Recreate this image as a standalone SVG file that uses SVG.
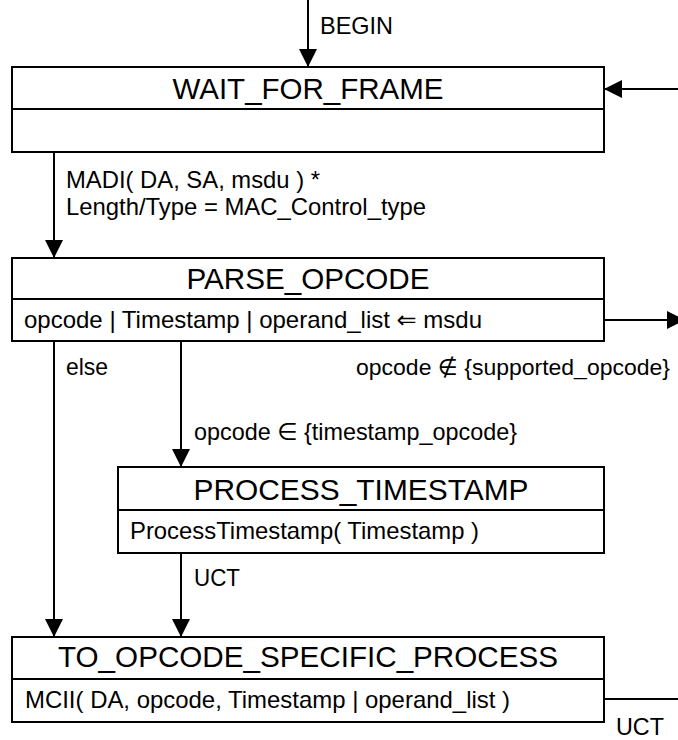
<svg xmlns="http://www.w3.org/2000/svg" width="678" height="740" viewBox="0 0 678 740">
<style>
.box{fill:#fff;stroke:#000;stroke-width:2}
.div{stroke:#000;stroke-width:2}
.ttl{font-family:"Liberation Sans",Arial,sans-serif;font-size:30px;fill:#000;text-anchor:middle}
.txt{font-family:"Liberation Sans","DejaVu Sans",Arial,sans-serif;font-size:24px;fill:#000}
.cn{fill:none;stroke:#000;stroke-width:2}
</style>
<defs>
<marker id="ah" markerUnits="userSpaceOnUse" markerWidth="18" markerHeight="18" refX="18" refY="9" orient="auto">
<path d="M0,0 L18,9 L0,18 z" fill="#000"/>
</marker>
</defs>
<rect width="678" height="740" fill="#fff"/>
<g id="connectors">
<path class="cn" d="M308 0 L308 67" marker-end="url(#ah)"/>
<path class="cn" d="M690 89 L604 89" marker-end="url(#ah)"/>
<path class="cn" d="M54 152 L54 258" marker-end="url(#ah)"/>
<path class="cn" d="M604 320 L685 320" marker-end="url(#ah)"/>
<path class="cn" d="M54 341 L54 637" marker-end="url(#ah)"/>
<path class="cn" d="M181 341 L181 467" marker-end="url(#ah)"/>
<path class="cn" d="M181 553 L181 637" marker-end="url(#ah)"/>
<path class="cn" d="M604 699 L678 699"/>
<text class="txt" x="320" y="34" textLength="73" lengthAdjust="spacingAndGlyphs">BEGIN</text>
<text class="txt" x="66" y="188" textLength="254" lengthAdjust="spacingAndGlyphs">MADI( DA, SA, msdu ) *</text>
<text class="txt" x="66" y="215" textLength="360" lengthAdjust="spacingAndGlyphs">Length/Type = MAC_Control_type</text>
<text class="txt" x="66" y="375" textLength="42" lengthAdjust="spacingAndGlyphs">else</text>
<text class="txt" x="356" y="375" style="font-size:22.5px" textLength="314" lengthAdjust="spacingAndGlyphs">opcode ∉ {supported_opcode}</text>
<text class="txt" x="194" y="440" textLength="323" lengthAdjust="spacingAndGlyphs">opcode ∈ {timestamp_opcode}</text>
<text class="txt" x="194" y="586" textLength="46" lengthAdjust="spacingAndGlyphs">UCT</text>
<text class="txt" x="616" y="735" textLength="48" lengthAdjust="spacingAndGlyphs">UCT</text>
</g>
<g id="WAIT_FOR_FRAME">
<rect class="box" x="12" y="67" width="592" height="85"/>
<line class="div" x1="12" y1="109" x2="604" y2="109"/>
<text class="ttl" x="308" y="99" textLength="271" lengthAdjust="spacingAndGlyphs">WAIT_FOR_FRAME</text>
</g>
<g id="PARSE_OPCODE">
<rect class="box" x="12" y="258" width="592" height="83"/>
<line class="div" x1="12" y1="299" x2="604" y2="299"/>
<text class="ttl" x="308" y="289" textLength="243" lengthAdjust="spacingAndGlyphs">PARSE_OPCODE</text>
<text class="txt" x="24" y="328" textLength="458" lengthAdjust="spacingAndGlyphs">opcode | Timestamp | operand_list ⇐ msdu</text>
</g>
<g id="PROCESS_TIMESTAMP">
<rect class="box" x="118" y="467" width="486" height="86"/>
<line class="div" x1="118" y1="510" x2="604" y2="510"/>
<text class="ttl" x="361" y="500" textLength="335" lengthAdjust="spacingAndGlyphs">PROCESS_TIMESTAMP</text>
<text class="txt" x="130" y="539" textLength="349" lengthAdjust="spacingAndGlyphs">ProcessTimestamp( Timestamp )</text>
</g>
<g id="TO_OPCODE_SPECIFIC_PROCESS">
<rect class="box" x="12" y="637" width="592" height="85"/>
<line class="div" x1="12" y1="679" x2="604" y2="679"/>
<text class="ttl" x="308" y="667" textLength="500" lengthAdjust="spacingAndGlyphs">TO_OPCODE_SPECIFIC_PROCESS</text>
<text class="txt" x="25" y="708" textLength="485" lengthAdjust="spacingAndGlyphs">MCII( DA, opcode, Timestamp | operand_list )</text>
</g>
</svg>
